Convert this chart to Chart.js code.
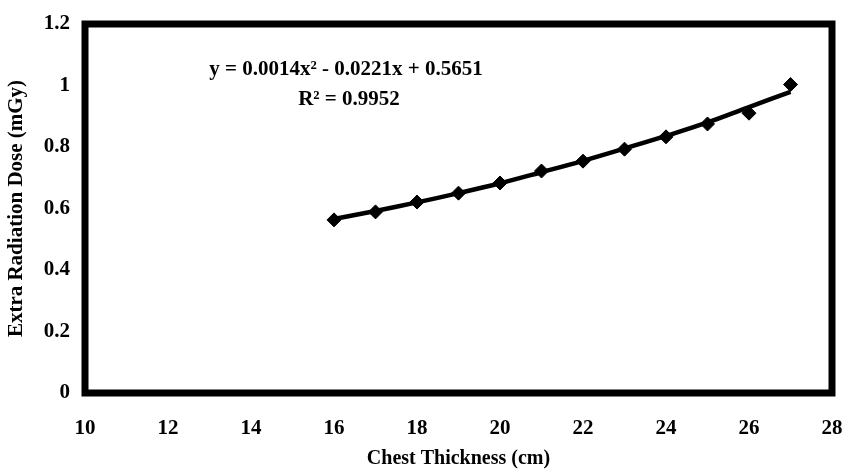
<!DOCTYPE html>
<html>
<head>
<meta charset="utf-8">
<script src="https://cdn.jsdelivr.net/npm/chart.js"></script>
<style>
  body { margin: 0; background: #fff; }
  #wrap { width: 844px; height: 473px; }
</style>
</head>
<body>
<div id="wrap"><canvas id="doseChart"></canvas></div>
<script>
    // chest thickness (cm) and measured extra dose (mGy)
    const thickness = [16, 17, 18, 19, 20, 21, 22, 23, 24, 25, 26, 27];
    const dose = [0.563, 0.589, 0.621, 0.650, 0.683, 0.722, 0.754, 0.793, 0.833, 0.875, 0.910, 1.003];
    // polynomial trendline
    const trend = [0.566, 0.592, 0.620, 0.650, 0.682, 0.718, 0.755, 0.795, 0.836, 0.880, 0.930, 0.979];
    const xTicks = [10, 12, 14, 16, 18, 20, 22, 24, 26, 28];
    const yTicks = [0, 0.2, 0.4, 0.6, 0.8, 1, 1.2];
    const eqText = 'y = 0.0014x\u00B2 - 0.0221x + 0.5651';
    const r2Text = 'R\u00B2 = 0.9952';

    const serif = "'Liberation Serif', 'Times New Roman', serif";

    const frame = {
        id: 'frame',
        afterDatasetsDraw(chart) {
            const a = chart.chartArea, c = chart.ctx;
            c.save();
            c.strokeStyle = '#000';
            c.lineWidth = 7;
            c.strokeRect(a.left, a.top, a.right - a.left, a.bottom - a.top);
            c.fillStyle = '#000';
            c.font = 'bold 21px ' + serif;
            c.textAlign = 'center';
            c.textBaseline = 'alphabetic';
            c.fillText(eqText, 346, 75);
            c.fillText(r2Text, 349, 105);
            c.restore();
        }
    };

    const ctx = document.getElementById('doseChart').getContext('2d');
    const doseChart = new Chart(ctx, {
        type: 'scatter',
        data: {
            datasets: [{
                label: 'Trend',
                data: thickness.map((x, i) => ({ x: x, y: trend[i] })),
                showLine: true,
                borderColor: '#000',
                borderWidth: 4.5,
                tension: 0.4,
                pointRadius: 0,
                order: 2
            }, {
                label: 'Dose',
                data: thickness.map((x, i) => ({ x: x, y: dose[i] })),
                showLine: false,
                pointStyle: 'rectRot',
                pointRadius: 7,
                backgroundColor: '#000',
                borderColor: '#000',
                order: 1
            }]
        },
        options: {
            responsive: true,
            maintainAspectRatio: false,
            animation: false,
            layout: { padding: { top: 24, right: 12, left: 0, bottom: 0 } },
            plugins: {
                legend: { display: false },
                tooltip: { enabled: false }
            },
            scales: {
                x: {
                    type: 'linear',
                    min: 10,
                    max: 28,
                    afterBuildTicks: s => { s.ticks = xTicks.map(v => ({ value: v })); },
                    grid: { display: false, drawTicks: false },
                    border: { display: false },
                    ticks: {
                        color: '#000',
                        padding: 23,
                        maxRotation: 0,
                        font: { family: serif, size: 21, weight: 'bold' }
                    },
                    title: {
                        display: true,
                        text: 'Chest Thickness (cm)',
                        color: '#000',
                        padding: { top: 10, bottom: 2 },
                        font: { family: serif, size: 20, weight: 'bold' }
                    },
                    afterFit: s => { s.height = 80; s.paddingLeft = 0; s.paddingRight = 0; }
                },
                y: {
                    min: 0,
                    max: 1.2,
                    afterBuildTicks: s => { s.ticks = yTicks.map(v => ({ value: v })); },
                    grid: { display: false, drawTicks: false },
                    border: { display: false },
                    ticks: {
                        color: '#000',
                        padding: 15,
                        font: { family: serif, size: 21, weight: 'bold' },
                        callback: v => String(+v.toFixed(1))
                    },
                    title: {
                        display: true,
                        text: 'Extra Radiation Dose (mGy)',
                        color: '#000',
                        padding: { top: 4, bottom: 6 },
                        font: { family: serif, size: 21, weight: 'bold' }
                    },
                    afterFit: s => { s.width = 85; s.paddingTop = 0; s.paddingBottom = 0; }
                }
            }
        },
        plugins: [frame]
    });
</script>
</body>
</html>
